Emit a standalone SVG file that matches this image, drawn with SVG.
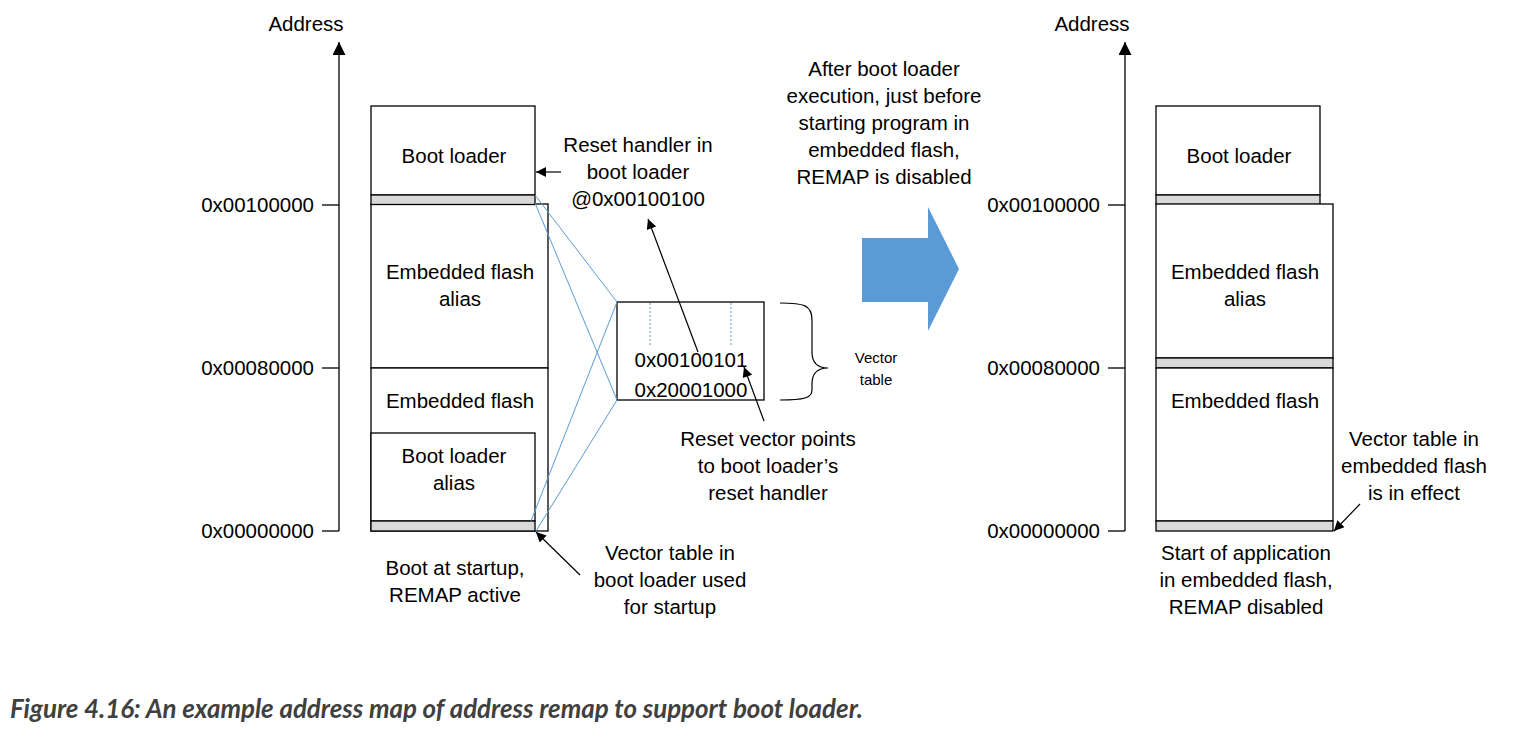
<svg xmlns="http://www.w3.org/2000/svg" width="1532" height="738" viewBox="0 0 1532 738">
<defs>
<style>
.t{font-family:"Liberation Sans",Arial,sans-serif;font-size:20.5px;fill:#000;text-anchor:middle}
.r{text-anchor:end}
.s{font-size:15px}
.box{fill:#fff;stroke:#000;stroke-width:1.3}
.bar{fill:#d9d9d9;stroke:#000;stroke-width:1.3}
.ax{stroke:#000;stroke-width:1.3;fill:none}
.ptr{stroke:#000;stroke-width:1.2;fill:none}
.bl{stroke:#5b9bd5;stroke-width:1;fill:none}
.cap{font-family:Lato,"Liberation Sans",sans-serif;font-style:italic;font-weight:bold;font-size:25.9px;fill:#404040}
</style>
<marker id="axh" viewBox="0 0 10 10" refX="10" refY="5" markerWidth="20" markerHeight="13" markerUnits="userSpaceOnUse" orient="auto"><path d="M0,0 L10,5 L0,10 Z" fill="#000"/></marker>
<marker id="ph" viewBox="0 0 10 10" refX="10" refY="5" markerWidth="14" markerHeight="10" markerUnits="userSpaceOnUse" orient="auto"><path d="M0,0 L10,5 L0,10 Z" fill="#000"/></marker>
</defs>
<rect width="1532" height="738" fill="#fff"/>

<g id="left-axis">
<line class="ax" x1="339" y1="531" x2="339" y2="42" marker-end="url(#axh)"/>
<line class="ax" x1="322" y1="205" x2="339" y2="205"/>
<line class="ax" x1="322" y1="368" x2="339" y2="368"/>
<line class="ax" x1="322" y1="531" x2="339" y2="531"/>
<text class="t" x="306" y="31">Address</text>
<text class="t r" x="314" y="212">0x00100000</text>
<text class="t r" x="314" y="375">0x00080000</text>
<text class="t r" x="314" y="538">0x00000000</text>
</g>

<g id="left-embedded-flash-alias">
<rect class="box" x="371" y="204" width="177" height="164"/>
<text class="t" x="460" y="279">Embedded flash</text>
<text class="t" x="460" y="306">alias</text>
</g>
<g id="left-embedded-flash">
<rect class="box" x="371" y="368" width="177" height="163"/>
<text class="t" x="460" y="408">Embedded flash</text>
</g>
<g id="left-boot-loader">
<rect class="box" x="371" y="106" width="164" height="89"/>
<rect class="bar" x="371" y="195" width="164" height="9.5"/>
<text class="t" x="454" y="163">Boot loader</text>
</g>
<g id="left-boot-loader-alias">
<rect class="box" x="371" y="433" width="164" height="88"/>
<rect class="bar" x="371" y="521" width="164" height="10"/>
<text class="t" x="454" y="463">Boot loader</text>
<text class="t" x="454" y="490">alias</text>
</g>

<g id="vector-table">
<rect class="box" x="617" y="302" width="147" height="98"/>
<line x1="650" y1="303" x2="650" y2="347" stroke="#5b9bd5" stroke-width="1" stroke-dasharray="2,2"/>
<line x1="731" y1="303" x2="731" y2="347" stroke="#5b9bd5" stroke-width="1" stroke-dasharray="2,2"/>
<text class="t" x="691" y="367">0x00100101</text>
<text class="t" x="691" y="397">0x20001000</text>
<path class="ptr" d="M780,303 C804,303 812,305 812,320 L812,352 C812,363 818,368 828,368 C818,368 812,373 812,384 L812,390 C812,398 804,400 780,400"/>
<text class="t s" x="876" y="363">Vector</text>
<text class="t s" x="876" y="385">table</text>
</g>

<g id="transition-arrow">
<path d="M862,238 L928,238 L928,207 L959,269 L928,331 L928,302 L862,302 Z" fill="#5b9bd5"/>
<text class="t" x="884" y="76">After boot loader</text>
<text class="t" x="884" y="103">execution, just before</text>
<text class="t" x="884" y="130">starting program in</text>
<text class="t" x="884" y="157">embedded flash,</text>
<text class="t" x="884" y="184">REMAP is disabled</text>
</g>

<g id="right-axis">
<line class="ax" x1="1125" y1="531" x2="1125" y2="42" marker-end="url(#axh)"/>
<line class="ax" x1="1108" y1="205" x2="1125" y2="205"/>
<line class="ax" x1="1108" y1="368" x2="1125" y2="368"/>
<line class="ax" x1="1108" y1="531" x2="1125" y2="531"/>
<text class="t" x="1092" y="31">Address</text>
<text class="t r" x="1100" y="212">0x00100000</text>
<text class="t r" x="1100" y="375">0x00080000</text>
<text class="t r" x="1100" y="538">0x00000000</text>
</g>

<g id="right-boot-loader">
<rect class="box" x="1156" y="106" width="164" height="89"/>
<rect class="bar" x="1156" y="195" width="164" height="9.5"/>
<text class="t" x="1239" y="163">Boot loader</text>
</g>
<g id="right-embedded-flash-alias">
<rect class="box" x="1156" y="204" width="177" height="154"/>
<rect class="bar" x="1156" y="358" width="177" height="10"/>
<text class="t" x="1245" y="279">Embedded flash</text>
<text class="t" x="1245" y="306">alias</text>
</g>
<g id="right-embedded-flash">
<rect class="box" x="1156" y="368" width="177" height="153"/>
<rect class="bar" x="1156" y="521" width="177" height="10"/>
<text class="t" x="1245" y="408">Embedded flash</text>
</g>

<g id="connectors">
<line class="bl" x1="535" y1="195" x2="617" y2="302"/>
<line class="bl" x1="535" y1="203" x2="617" y2="400"/>
<line class="bl" x1="531" y1="521" x2="617" y2="302"/>
<line class="bl" x1="536" y1="531" x2="617" y2="400"/>
<line class="ptr" x1="561" y1="172" x2="536" y2="172" marker-end="url(#ph)"/>
<line class="ptr" x1="698" y1="352" x2="648" y2="219" marker-end="url(#ph)"/>
<line class="ptr" x1="764" y1="421" x2="744" y2="367" marker-end="url(#ph)"/>
<line class="ptr" x1="580" y1="575" x2="536" y2="532" marker-end="url(#ph)"/>
<line class="ptr" x1="1360" y1="504" x2="1334" y2="531" marker-end="url(#ph)"/>
</g>

<g id="labels">
<text class="t" x="638" y="152">Reset handler in</text>
<text class="t" x="638" y="179">boot loader</text>
<text class="t" x="638" y="206">@0x00100100</text>
<text class="t" x="768" y="446">Reset vector points</text>
<text class="t" x="768" y="473">to boot loader’s</text>
<text class="t" x="768" y="500">reset handler</text>
<text class="t" x="455" y="575">Boot at startup,</text>
<text class="t" x="455" y="602">REMAP active</text>
<text class="t" x="670" y="560">Vector table in</text>
<text class="t" x="670" y="587">boot loader used</text>
<text class="t" x="670" y="614">for startup</text>
<text class="t" x="1414" y="446">Vector table in</text>
<text class="t" x="1414" y="473">embedded flash</text>
<text class="t" x="1414" y="500">is in effect</text>
<text class="t" x="1246" y="560">Start of application</text>
<text class="t" x="1246" y="587">in embedded flash,</text>
<text class="t" x="1246" y="614">REMAP disabled</text>
</g>

<text class="cap" x="10" y="718">Figure 4.16: An example address map of address remap to support boot loader.</text>
</svg>
